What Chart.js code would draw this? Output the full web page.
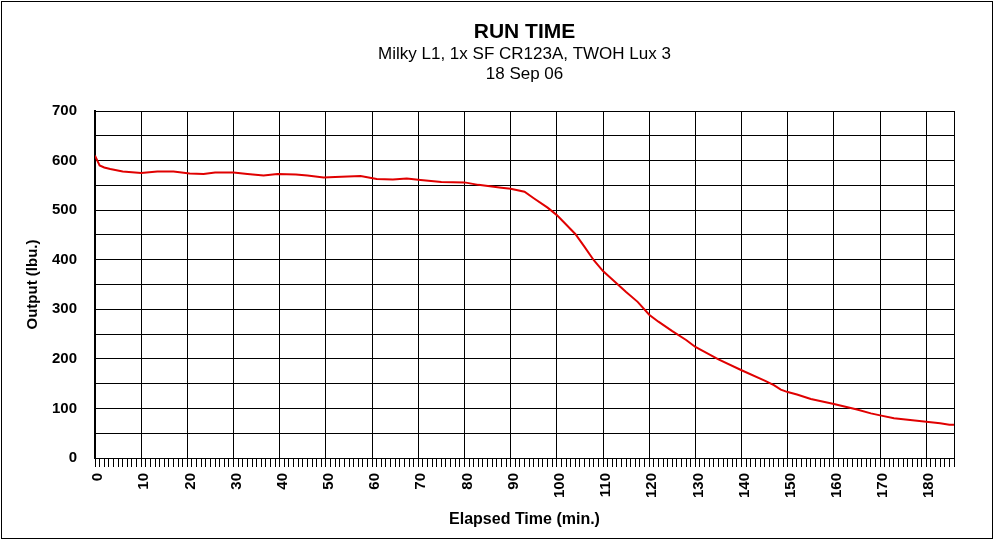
<!DOCTYPE html>
<html>
<head>
<meta charset="utf-8">
<script src="https://cdn.jsdelivr.net/npm/chart.js@4/dist/chart.umd.min.js"></script>
<style>
  body { margin: 0; background: #fff; }
  #runChart { display: block; }
</style>
</head>
<body>
<canvas id="runChart" width="995" height="541"></canvas>
<script>
// elapsed time (min.) and output (lbu.)
var elapsedMin = [0, 0.5, 1, 2, 3.3, 6, 10, 13.5, 17, 20.5, 23.5, 26, 30, 33, 36.5, 39.5,
    43.5, 46, 49.5, 52, 57.5, 61, 64.5, 67.5, 70.5, 75, 80, 83, 88, 90, 93, 95, 98, 100,
    104, 106, 108, 110, 112.5, 115, 117.5, 120, 122, 125, 128, 130, 132, 135, 140, 145,
    147, 148.5, 150, 152, 155, 160, 165, 168, 170, 173, 175, 180, 183, 185, 186];
var outputLbu = [610, 600, 590, 586, 583, 578, 575, 578, 578, 574, 573, 576, 576, 573, 570, 573,
    572, 570, 566, 567, 569, 563, 562, 564, 561, 557, 556, 551, 545, 543, 537, 524, 505, 490,
    452, 426, 399, 377, 356, 335, 315, 289, 275, 256, 238, 224, 214, 199, 177, 156,
    147, 138, 133, 128, 119, 109, 98, 90, 86, 80, 78, 73, 70, 67, 67];

var titleLines = ["RUN TIME", "Milky L1, 1x SF CR123A, TWOH Lux 3", "18 Sep 06"];
var xTitle = "Elapsed Time (min.)";
var yTitle = "Output (lbu.)";
var X_MAX = 186;

var FONT = "'Liberation Sans', Arial, sans-serif";

var points = elapsedMin.map(function(t, i) { return { x: t, y: outputLbu[i] }; });

// titles centred over the plot area + outer frame
var frameAndTitles = {
    id: 'frameAndTitles',
    afterDraw: function(chart) {
        var ctx = chart.ctx;
        var area = chart.chartArea;
        var cx = (area.left + area.right) / 2;
        ctx.save();
        ctx.fillStyle = '#000';
        ctx.textAlign = 'center';
        ctx.textBaseline = 'middle';
        ctx.font = "bold 21px " + FONT;
        ctx.fillText(titleLines[0], cx, 32);
        ctx.font = "17px " + FONT;
        ctx.fillText(titleLines[1], cx, 54);
        ctx.fillText(titleLines[2], cx, 74);
        ctx.strokeStyle = '#000';
        ctx.lineWidth = 1;
        ctx.strokeRect(1.5, 1.5, 991, 537);
        ctx.restore();
    }
};

var myChart = new Chart(document.getElementById('runChart').getContext('2d'), {
    type: 'line',
    data: {
        datasets: [{
            data: points,
            borderColor: '#e00000',
            borderWidth: 2,
            pointRadius: 0,
            tension: 0,
            fill: false
        }]
    },
    options: {
        responsive: false,
        animation: false,
        layout: {
            padding: { left: 2, right: 41, top: 111, bottom: 0 }
        },
        plugins: {
            legend: { display: false },
            tooltip: { enabled: false }
        },
        scales: {
            x: {
                type: 'linear',
                min: 0,
                max: X_MAX,
                afterFit: function(scale) { scale.height = 83; },
                border: { display: true, color: '#000', width: 1 },
                grid: {
                    color: function(c) {
                        var v = c.tick ? c.tick.value : 0;
                        return (v % 10 === 0 || v === X_MAX) ? '#000' : 'rgba(0,0,0,0)';
                    },
                    tickColor: '#000',
                    tickLength: 9,
                    lineWidth: 1
                },
                ticks: {
                    stepSize: 1,
                    autoSkip: false,
                    minRotation: 90,
                    maxRotation: 90,
                    padding: 6,
                    labelOffset: 3,
                    color: '#000',
                    font: { family: FONT, size: 15, weight: 'bold' },
                    callback: function(v) { return v % 10 === 0 ? v : ''; }
                },
                title: {
                    display: true,
                    text: xTitle,
                    color: '#000',
                    font: { family: FONT, size: 16, weight: 'bold' },
                    padding: { top: 0, bottom: 12 }
                }
            },
            y: {
                min: 0,
                max: 700,
                afterFit: function(scale) { scale.width = 93; },
                border: { display: true, color: '#000', width: 2 },
                grid: {
                    color: '#000',
                    lineWidth: 1,
                    drawTicks: false
                },
                ticks: {
                    stepSize: 50,
                    padding: 18,
                    color: '#000',
                    font: { family: FONT, size: 15, weight: 'bold' },
                    callback: function(v) { return v % 100 === 0 ? v : ''; }
                },
                title: {
                    display: true,
                    text: yTitle,
                    color: '#000',
                    font: { family: FONT, size: 15, weight: 'bold' },
                    padding: { top: 22, bottom: 0 }
                }
            }
        }
    },
    plugins: [frameAndTitles]
});
</script>
</body>
</html>
